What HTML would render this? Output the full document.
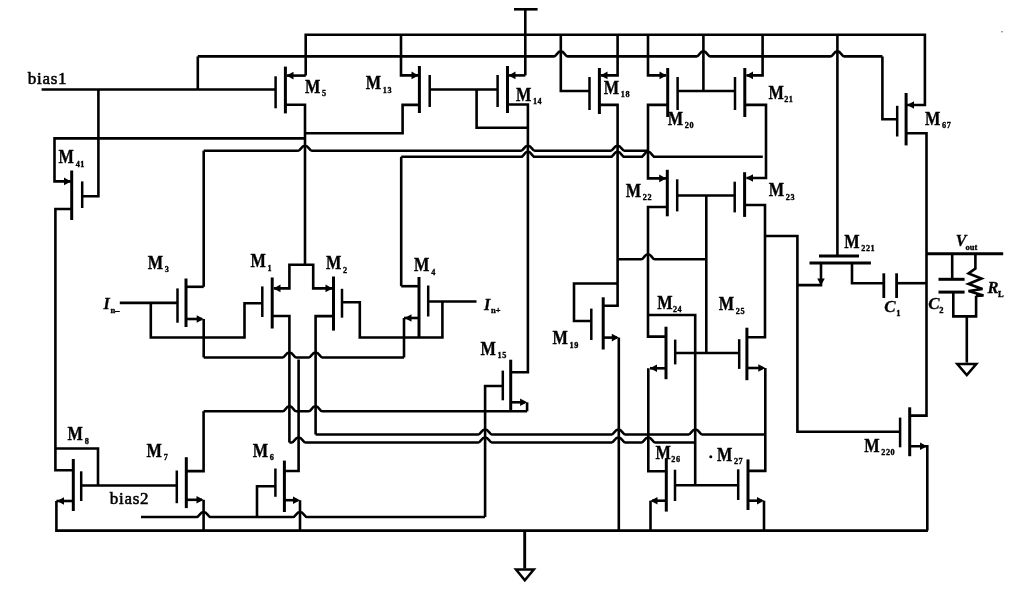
<!DOCTYPE html>
<html><head><meta charset="utf-8"><style>
html,body{margin:0;padding:0;background:#fff;}
svg{display:block;will-change:transform;}
polyline,path{fill:none;stroke:#000;stroke-linecap:butt;stroke-linejoin:miter;}
.f{fill:#000;stroke:none;}
polygon{stroke:#000;}
text{font-family:"Liberation Serif",serif;fill:#000;}
.m{font-weight:bold;stroke:#000;stroke-width:0.35px;}
.b{font-weight:normal;letter-spacing:0.7px;stroke:#000;stroke-width:0.55px;}
.i{font-style:italic;font-weight:bold;stroke:#000;stroke-width:0.3px;}
</style></head><body>
<svg width="1015" height="591" viewBox="0 0 1015 591">
<rect width="1015" height="591" fill="#fff"/>
<polyline points="514,9.3 537.6,9.3" stroke-width="2.6"/>
<polyline points="525.3,9.3 525.3,75.4" stroke-width="2.6"/>
<polyline points="305.7,75.4 305.7,34.7 924.9,34.7 924.9,105 907,105" stroke-width="2.6"/>
<polygon points="907,105 914,101.2 914,108.8" class="f"/>
<polyline points="41.6,89.5 275.6,89.5" stroke-width="2.6"/>
<polyline points="197.8,89.5 197.8,56.4" stroke-width="2.6"/>
<path d="M197.8,56.4 L554,56.4 C556.58,56.4 557.06,51.4 560.8,51.4 C564.54,51.4 565.02,56.4 567.6,56.4 L696.6,56.4 C699.18,56.4 699.66,51.4 703.4,51.4 C707.14,51.4 707.62,56.4 710.2,56.4 L830.6,56.4 C833.18,56.4 833.66,51.4 837.4,51.4 C841.14,51.4 841.62,56.4 844.2,56.4 L882.4,56.4" stroke-width="2.6"/>
<polyline points="882.4,56.4 882.4,119.3 897.2,119.3" stroke-width="2.6"/>
<polyline points="98.4,89.5 98.4,196.2 82.2,196.2" stroke-width="2.6"/>
<polyline points="275.6,76.3 275.6,108.3" stroke-width="2.5"/>
<polyline points="285.4,66.6 285.4,113.4" stroke-width="3"/>
<polyline points="287,75.6 305.7,75.6" stroke-width="2.6"/>
<polygon points="286.5,75.6 293.5,71.8 293.5,79.4" class="f"/>
<polyline points="285.4,104.8 305,104.8 305,264.7" stroke-width="2.6"/>
<polyline points="71,181.4 54.5,181.4 54.5,138.4 305,138.4" stroke-width="2.6"/>
<polygon points="71,181.4 64,177.6 64,185.2" class="f"/>
<polyline points="305,133.2 402.6,133.2 402.6,104.9 419.4,104.9" stroke-width="2.6"/>
<polyline points="401,34.7 401,75.4 418,75.4" stroke-width="2.6"/>
<polygon points="418.5,75.4 411.5,71.6 411.5,79.2" class="f"/>
<polyline points="419.4,66 419.4,113" stroke-width="3"/>
<polyline points="429.7,75 429.7,107" stroke-width="2.5"/>
<polyline points="429.7,89.5 497.6,89.5" stroke-width="2.6"/>
<polyline points="497.6,75 497.6,107" stroke-width="2.5"/>
<polyline points="507.5,66 507.5,113" stroke-width="3"/>
<polyline points="525.3,75.4 509,75.4" stroke-width="2.6"/>
<polygon points="508.5,75.4 515.5,71.6 515.5,79.2" class="f"/>
<polyline points="507.5,104.5 527.9,104.5 527.9,372.2 510.7,372.2" stroke-width="2.6"/>
<polyline points="476.6,89.5 476.6,127.7 527.9,127.7" stroke-width="2.6"/>
<polyline points="560.8,34.7 560.8,91 589.5,91" stroke-width="2.6"/>
<polyline points="589.5,77 589.5,110" stroke-width="2.5"/>
<polyline points="599.4,68 599.4,114" stroke-width="3"/>
<polyline points="617.6,34.7 617.6,75.4 601,75.4" stroke-width="2.6"/>
<polygon points="600.5,75.4 607.5,71.6 607.5,79.2" class="f"/>
<polyline points="599.4,104.9 617.6,104.9 617.6,305.8 603.2,305.8" stroke-width="2.6"/>
<polyline points="648,34.7 648,75.4 666,75.4" stroke-width="2.6"/>
<polygon points="666.5,75.4 659.5,71.6 659.5,79.2" class="f"/>
<polyline points="667.7,68 667.7,117" stroke-width="3"/>
<polyline points="677.6,77 677.6,110" stroke-width="2.5"/>
<polyline points="677.6,91 735,91" stroke-width="2.6"/>
<polyline points="703.4,34.7 703.4,91" stroke-width="2.6"/>
<polyline points="667.7,104.9 648,104.9 648,178.4 666,178.4" stroke-width="2.6"/>
<polygon points="666.2,178.4 659.2,174.6 659.2,182.2" class="f"/>
<polyline points="735,77 735,110" stroke-width="2.5"/>
<polyline points="744.8,68 744.8,117" stroke-width="3"/>
<polyline points="762.6,34.7 762.6,75.4 746.5,75.4" stroke-width="2.6"/>
<polygon points="746,75.4 753,71.6 753,79.2" class="f"/>
<polyline points="744.8,104.9 766,104.9 766,178 746.5,178" stroke-width="2.6"/>
<polygon points="746,178 753,174.2 753,181.8" class="f"/>
<polyline points="203.7,286.8 203.7,150.7" stroke-width="2.6"/>
<path d="M203.7,150.7 L298.2,150.7 C300.78,150.7 301.26,145.7 305,145.7 C308.74,145.7 309.22,150.7 311.8,150.7 L521.1,150.7 C523.68,150.7 524.16,145.7 527.9,145.7 C531.64,145.7 532.12,150.7 534.7,150.7 L610.8,150.7 C613.38,150.7 613.86,145.7 617.6,145.7 C621.34,145.7 621.82,150.7 624.4,150.7 L648,150.7" stroke-width="2.6"/>
<polyline points="401.2,286.2 401.2,156.8" stroke-width="2.6"/>
<path d="M401.2,156.8 L521.1,156.8 C523.68,156.8 524.16,151.8 527.9,151.8 C531.64,151.8 532.12,156.8 534.7,156.8 L610.8,156.8 C613.38,156.8 613.86,151.8 617.6,151.8 C621.34,151.8 621.82,156.8 624.4,156.8 L641.2,156.8 C643.78,156.8 644.26,151.8 648,151.8 C651.74,151.8 652.22,156.8 654.8,156.8 L762.8,156.8" stroke-width="2.6"/>
<polyline points="667.3,169.8 667.3,216.3" stroke-width="3"/>
<polyline points="677.2,179.3 677.2,211.4" stroke-width="2.5"/>
<polyline points="667.3,207 648,207 648,336.6 666,336.6" stroke-width="2.6"/>
<polyline points="677.2,195.5 734.7,195.5" stroke-width="2.6"/>
<polyline points="706.3,195.5 706.3,353" stroke-width="2.6"/>
<path d="M617.6,259.3 L641.2,259.3 C643.78,259.3 644.26,254.3 648,254.3 C651.74,254.3 652.22,259.3 654.8,259.3 L706.3,259.3" stroke-width="2.6"/>
<polyline points="591.3,321 574,321 574,283.5 617.6,283.5" stroke-width="2.6"/>
<polyline points="648,315 695.2,315 695.2,485.3" stroke-width="2.6"/>
<polyline points="734.7,181.7 734.7,212.4" stroke-width="2.5"/>
<polyline points="744.6,172.2 744.6,216.9" stroke-width="3"/>
<polyline points="744.6,205 765,205 765,337.2 746.9,337.2" stroke-width="2.6"/>
<polyline points="765,236 797.4,236 797.4,431.7 900,431.7" stroke-width="2.6"/>
<polyline points="797.4,285.1 821,285.1 821,263" stroke-width="2.6"/>
<polygon points="821,285.5 817.2,278.5 824.8,278.5" class="f"/>
<polyline points="837.4,34.7 837.4,256" stroke-width="2.6"/>
<polyline points="819,256 859,256" stroke-width="3"/>
<polyline points="809.5,263 870.9,263" stroke-width="3"/>
<polyline points="852,263 852,283.2 883.8,283.2" stroke-width="2.6"/>
<polyline points="883.8,273.3 883.8,298" stroke-width="2.8"/>
<polyline points="896.6,273.3 896.6,298" stroke-width="2.8"/>
<polyline points="896.6,283.2 926,283.2" stroke-width="2.6"/>
<polyline points="897.2,105.8 897.2,136.5" stroke-width="2.5"/>
<polyline points="906.1,93 906.1,145.4" stroke-width="3"/>
<polyline points="906.1,133.2 926.5,133.2 926.5,415.6 909.7,415.6" stroke-width="2.6"/>
<polyline points="926.5,253.8 1003.2,253.8" stroke-width="3"/>
<polyline points="952.2,253.8 952.2,279.3" stroke-width="2.6"/>
<polyline points="938.5,279.3 964.6,279.3" stroke-width="3"/>
<polyline points="938.5,292.1 964.6,292.1" stroke-width="3"/>
<polyline points="953.3,292.1 953.3,316.4 976.1,316.4 976.1,295.7" stroke-width="2.6"/>
<polyline points="975.4,253.8 975.4,268.5 968.5,273.5 981.5,278.5 968.5,284 982.5,289 968.5,291 983.5,295.5 976.1,296" stroke-width="2.6"/>
<polyline points="966.8,316.4 966.8,362.6" stroke-width="2.6"/>
<polygon points="957.3,364 976.3,364 966.8,375" stroke-width="2.5" fill="none"/>
<polyline points="900.1,417.6 900.1,447.3" stroke-width="2.5"/>
<polyline points="909.7,407.3 909.7,456.2" stroke-width="3"/>
<polyline points="911,446.3 927.3,446.3 927.3,530.6" stroke-width="2.6"/>
<polygon points="927,446.3 920,442.5 920,450.1" class="f"/>
<polyline points="56.4,501 56.4,530.6 927.9,530.6" stroke-width="2.6"/>
<polyline points="524.7,530.6 524.7,568.6" stroke-width="2.9"/>
<polygon points="516,569.5 533.8,569.5 524.8,580.3" stroke-width="2.5" fill="none"/>
<polyline points="71.7,170.5 71.7,220" stroke-width="3"/>
<polyline points="82.2,181.4 82.2,208" stroke-width="2.5"/>
<polyline points="71.7,209 55.4,209 55.4,470.3 73.3,470.3" stroke-width="2.6"/>
<polyline points="55.4,448.5 98,448.5 98,485.5" stroke-width="2.6"/>
<polyline points="73.3,459 73.3,511" stroke-width="3"/>
<polyline points="81.2,471.3 81.2,501" stroke-width="2.5"/>
<polyline points="81.2,485.5 176.5,485.5" stroke-width="2.6"/>
<polyline points="72,501 56.4,501" stroke-width="2.6"/>
<polygon points="57,501 64,497.2 64,504.8" class="f"/>
<polyline points="176.8,470.5 176.8,503.2" stroke-width="2.5"/>
<polyline points="186.3,457.2 186.3,508.1" stroke-width="3"/>
<polyline points="186.3,471.1 203.6,471.1 203.6,411.3" stroke-width="2.6"/>
<path d="M203.6,411.3 L282.7,411.3 C285.28,411.3 285.76,406.3 289.5,406.3 C293.24,406.3 293.72,411.3 296.3,411.3 L308.7,411.3 C311.28,411.3 311.76,406.3 315.5,406.3 C319.24,406.3 319.72,411.3 322.3,411.3 L527.1,411.3" stroke-width="2.6"/>
<polyline points="186.3,499.8 202,499.8" stroke-width="2.6"/>
<polygon points="203.5,499.8 196.5,496 196.5,503.6" class="f"/>
<polyline points="203.6,499.8 203.6,530.6" stroke-width="2.6"/>
<path d="M141,517 L196.8,517 C199.38,517 199.86,512 203.6,512 C207.34,512 207.82,517 210.4,517 L293.2,517 C295.78,517 296.26,512 300,512 C303.74,512 304.22,517 306.8,517 L485.1,517" stroke-width="2.6"/>
<polyline points="485.1,517 485.1,386 502.8,386" stroke-width="2.6"/>
<polyline points="257,517 257,486.3 275.4,486.3" stroke-width="2.6"/>
<polyline points="275.4,468.5 275.4,496.8" stroke-width="2.5"/>
<polyline points="284.4,460.6 284.4,512" stroke-width="3"/>
<polyline points="284.4,471 298.6,471 298.6,359.5" stroke-width="2.6"/>
<polyline points="284.4,500.2 298,500.2" stroke-width="2.6"/>
<polygon points="300,500.2 293,496.4 293,504" class="f"/>
<polyline points="300,500.2 300,530.6" stroke-width="2.6"/>
<polyline points="272.2,316 289.4,316 289.4,442.5" stroke-width="2.6"/>
<path d="M289.4,442.5 L291.8,442.5 C294.38,442.5 294.86,437.5 298.6,437.5 C302.34,437.5 302.82,442.5 305.4,442.5 L478.3,442.5 C480.88,442.5 481.36,437.5 485.1,437.5 C488.84,437.5 489.32,442.5 491.9,442.5 L611.6,442.5 C614.18,442.5 614.66,437.5 618.4,437.5 C622.14,437.5 622.62,442.5 625.2,442.5 L641.5,442.5 C644.08,442.5 644.56,437.5 648.3,437.5 C652.04,437.5 652.52,442.5 655.1,442.5 L695.4,442.5" stroke-width="2.6"/>
<polyline points="333.5,316.1 315.6,316.1 315.6,434.5" stroke-width="2.6"/>
<path d="M315.6,434.5 L478.3,434.5 C480.88,434.5 481.36,429.5 485.1,429.5 C488.84,429.5 489.32,434.5 491.9,434.5 L611.6,434.5 C614.18,434.5 614.66,429.5 618.4,429.5 C622.14,429.5 622.62,434.5 625.2,434.5 L688.6,434.5 C691.18,434.5 691.66,429.5 695.4,429.5 C699.14,429.5 699.62,434.5 702.2,434.5 L765.3,434.5" stroke-width="2.6"/>
<polyline points="203.7,319 203.7,357.5" stroke-width="2.6"/>
<path d="M203.7,357.5 L282.6,357.5 C285.18,357.5 285.66,352.5 289.4,352.5 C293.14,352.5 293.62,357.5 296.2,357.5 L308.8,357.5 C311.38,357.5 311.86,352.5 315.6,352.5 C319.34,352.5 319.82,357.5 322.4,357.5 L404,357.5" stroke-width="2.6"/>
<polyline points="404,357.5 404,318" stroke-width="2.6"/>
<polyline points="177.5,288.4 177.5,322.7" stroke-width="2.5"/>
<polyline points="186,278.5 186,327" stroke-width="3"/>
<polyline points="186,286.8 203.7,286.8" stroke-width="2.6"/>
<polyline points="186,319 202,319" stroke-width="2.6"/>
<polygon points="203.7,319 196.7,315.2 196.7,322.8" class="f"/>
<polyline points="119.8,302.9 177.5,302.9" stroke-width="2.6"/>
<polyline points="150.8,302.9 150.8,337.5 244.5,337.5 244.5,303.3 262.3,303.3" stroke-width="2.6"/>
<polyline points="262.3,286.4 262.3,317" stroke-width="2.5"/>
<polyline points="272.2,277.5 272.2,328.5" stroke-width="3"/>
<polyline points="274,288.4 289.4,288.4 289.4,264.7 313.2,264.7 313.2,288.4 332,288.4" stroke-width="2.6"/>
<polygon points="273.5,288.4 280.5,284.6 280.5,292.2" class="f"/>
<polygon points="332.5,288.4 325.5,284.6 325.5,292.2" class="f"/>
<polyline points="333.5,276.5 333.5,330.6" stroke-width="3"/>
<polyline points="342,288.8 342,317.7" stroke-width="2.5"/>
<polyline points="342,302.3 359.8,302.3 359.8,337.5 442.4,337.5 442.4,301.5" stroke-width="2.6"/>
<polyline points="428.2,301.5 476.5,301.5" stroke-width="2.6"/>
<polyline points="419,277 419,337" stroke-width="3"/>
<polyline points="428.2,285.5 428.2,316.5" stroke-width="2.5"/>
<polyline points="419,286.2 401.2,286.2" stroke-width="2.6"/>
<polyline points="418,318 404,318" stroke-width="2.6"/>
<polygon points="404.5,318 411.5,314.2 411.5,321.8" class="f"/>
<polyline points="510.7,359.7 510.7,411.2" stroke-width="3"/>
<polyline points="502.8,370.6 502.8,400.3" stroke-width="2.5"/>
<polyline points="510.7,402.3 525,402.3" stroke-width="2.6"/>
<polygon points="527.1,402.3 520.1,398.5 520.1,406.1" class="f"/>
<polyline points="527.1,402.3 527.1,411.3" stroke-width="2.6"/>
<polyline points="603.2,297.3 603.2,349.5" stroke-width="3"/>
<polyline points="591.3,308.6 591.3,340" stroke-width="2.5"/>
<polyline points="603,337.6 617,337.6" stroke-width="2.6"/>
<polygon points="618.8,337.6 611.8,333.8 611.8,341.4" class="f"/>
<polyline points="618.8,337.6 618.8,530.6" stroke-width="2.6"/>
<polyline points="666,326.7 666,379.2" stroke-width="3"/>
<polyline points="675.2,339.6 675.2,364.4" stroke-width="2.5"/>
<polyline points="666,368.3 650,368.3" stroke-width="2.6"/>
<polygon points="650,368.3 657,364.5 657,372.1" class="f"/>
<polyline points="648.3,368.3 648.3,471.3 666.3,471.3" stroke-width="2.6"/>
<polyline points="675.2,353 739.2,353" stroke-width="2.6"/>
<polyline points="739.2,339.2 739.2,368.9" stroke-width="2.5"/>
<polyline points="746.9,327.7 746.9,380.2" stroke-width="3"/>
<polyline points="746.9,368 763,368" stroke-width="2.6"/>
<polygon points="765.3,368 758.3,364.2 758.3,371.8" class="f"/>
<polyline points="765.3,368 765.3,470.9 748.1,470.9" stroke-width="2.6"/>
<polyline points="666.3,458.8 666.3,511.6" stroke-width="3"/>
<polyline points="675,469.7 675,501" stroke-width="2.5"/>
<polyline points="666.3,500.7 652,500.7" stroke-width="2.6"/>
<polygon points="650.5,500.7 657.5,496.9 657.5,504.5" class="f"/>
<polyline points="650.5,500.7 650.5,530.6" stroke-width="2.6"/>
<polyline points="675,485.3 738.2,485.3" stroke-width="2.6"/>
<polyline points="738.2,469.3 738.2,500" stroke-width="2.5"/>
<polyline points="748,459.4 748,510" stroke-width="3"/>
<polyline points="748,500.7 762,500.7" stroke-width="2.6"/>
<polygon points="764,500.7 757,496.9 757,504.5" class="f"/>
<polyline points="764,500.7 764,530.6" stroke-width="2.6"/>
<circle cx="710.8" cy="456.7" r="1.5" class="f"/>
<circle cx="1002" cy="31.7" r="0.8" fill="#666"/>
<text x="27.8" y="84" class="b" font-size="17">bias1</text>
<text x="109.8" y="504" class="b" font-size="17">bias2</text>
<text transform="translate(304.9,92.8) scale(0.88,1)" class="m" font-size="18.5">M</text>
<text x="321.97" y="96.3" class="m" font-size="8.2" letter-spacing="0.5">5</text>
<text transform="translate(365.8,89.3) scale(0.88,1)" class="m" font-size="18.5">M</text>
<text x="382.87" y="92.8" class="m" font-size="8.2" letter-spacing="0.5">13</text>
<text transform="translate(515.9,100.8) scale(0.88,1)" class="m" font-size="18.5">M</text>
<text x="532.97" y="104.3" class="m" font-size="8.2" letter-spacing="0.5">14</text>
<text transform="translate(603.8,93.9) scale(0.88,1)" class="m" font-size="18.5">M</text>
<text x="620.87" y="97.4" class="m" font-size="8.2" letter-spacing="0.5">18</text>
<text transform="translate(667.8,124.5) scale(0.88,1)" class="m" font-size="18.5">M</text>
<text x="684.87" y="128" class="m" font-size="8.2" letter-spacing="0.5">20</text>
<text transform="translate(768.6,98.5) scale(0.88,1)" class="m" font-size="18.5">M</text>
<text x="784.27" y="102" class="m" font-size="8.2" letter-spacing="0.5">21</text>
<text transform="translate(58.6,163.3) scale(0.88,1)" class="m" font-size="18.5">M</text>
<text x="75.67" y="166.8" class="m" font-size="8.2" letter-spacing="0.5">41</text>
<text transform="translate(925,124.8) scale(0.88,1)" class="m" font-size="18.5">M</text>
<text x="942.07" y="128.3" class="m" font-size="8.2" letter-spacing="0.5">67</text>
<text transform="translate(625.8,196.8) scale(0.88,1)" class="m" font-size="18.5">M</text>
<text x="642.87" y="200.3" class="m" font-size="8.2" letter-spacing="0.5">22</text>
<text transform="translate(768.8,196.2) scale(0.88,1)" class="m" font-size="18.5">M</text>
<text x="785.87" y="199.7" class="m" font-size="8.2" letter-spacing="0.5">23</text>
<text transform="translate(844.3,247.5) scale(0.88,1)" class="m" font-size="18.5">M</text>
<text x="861.37" y="251" class="m" font-size="8.2" letter-spacing="0.5">221</text>
<text transform="translate(147.8,268.5) scale(0.88,1)" class="m" font-size="18.5">M</text>
<text x="164.87" y="272" class="m" font-size="8.2" letter-spacing="0.5">3</text>
<text transform="translate(250.5,267) scale(0.88,1)" class="m" font-size="18.5">M</text>
<text x="267.57" y="270.5" class="m" font-size="8.2" letter-spacing="0.5">1</text>
<text transform="translate(326,269) scale(0.88,1)" class="m" font-size="18.5">M</text>
<text x="343.07" y="272.5" class="m" font-size="8.2" letter-spacing="0.5">2</text>
<text transform="translate(414.1,271) scale(0.88,1)" class="m" font-size="18.5">M</text>
<text x="431.17" y="274.5" class="m" font-size="8.2" letter-spacing="0.5">4</text>
<text transform="translate(657.3,308.5) scale(0.88,1)" class="m" font-size="18.5">M</text>
<text x="672.97" y="312" class="m" font-size="8.2" letter-spacing="0.5">24</text>
<text transform="translate(718.8,310) scale(0.88,1)" class="m" font-size="18.5">M</text>
<text x="735.87" y="313.5" class="m" font-size="8.2" letter-spacing="0.5">25</text>
<text transform="translate(552.5,344) scale(0.88,1)" class="m" font-size="18.5">M</text>
<text x="569.57" y="347.5" class="m" font-size="8.2" letter-spacing="0.5">19</text>
<text transform="translate(480.5,354.8) scale(0.88,1)" class="m" font-size="18.5">M</text>
<text x="497.57" y="358.3" class="m" font-size="8.2" letter-spacing="0.5">15</text>
<text transform="translate(67.6,440) scale(0.88,1)" class="m" font-size="18.5">M</text>
<text x="84.67" y="443.5" class="m" font-size="8.2" letter-spacing="0.5">8</text>
<text transform="translate(146.6,456.8) scale(0.88,1)" class="m" font-size="18.5">M</text>
<text x="163.67" y="460.3" class="m" font-size="8.2" letter-spacing="0.5">7</text>
<text transform="translate(252.8,456.5) scale(0.88,1)" class="m" font-size="18.5">M</text>
<text x="269.87" y="460" class="m" font-size="8.2" letter-spacing="0.5">6</text>
<text transform="translate(655.5,458.5) scale(0.88,1)" class="m" font-size="18.5">M</text>
<text x="671.37" y="462" class="m" font-size="8.2" letter-spacing="0.5">26</text>
<text transform="translate(716.9,460.5) scale(0.88,1)" class="m" font-size="18.5">M</text>
<text x="733.97" y="464" class="m" font-size="8.2" letter-spacing="0.5">27</text>
<text transform="translate(864.3,451.8) scale(0.88,1)" class="m" font-size="18.5">M</text>
<text x="881.37" y="455.3" class="m" font-size="8.2" letter-spacing="0.5">220</text>
<text x="884.3" y="312.3" class="i" font-size="17">C</text><text x="896.2" y="315.9" class="m" font-size="8.5">1</text>
<text x="928.3" y="309.3" class="i" font-size="17">C</text><text x="939.3" y="312.7" class="m" font-size="8.5">2</text>
<text x="987.5" y="293.4" class="i" font-size="16.5">R</text><text x="998" y="296.8" class="m" font-size="8.5">L</text>
<text x="955.7" y="245.5" class="i" font-size="16">V</text><text x="965.5" y="249.7" class="m" font-size="8.5">out</text>
<text x="103.5" y="309.2" class="i" font-size="16">I</text><text x="110.5" y="312.5" class="m" font-size="8.5">n&#8211;</text>
<text x="484" y="309.6" class="i" font-size="16">I</text><text x="491" y="313.4" class="m" font-size="8.5">n+</text>
</svg>
</body></html>
